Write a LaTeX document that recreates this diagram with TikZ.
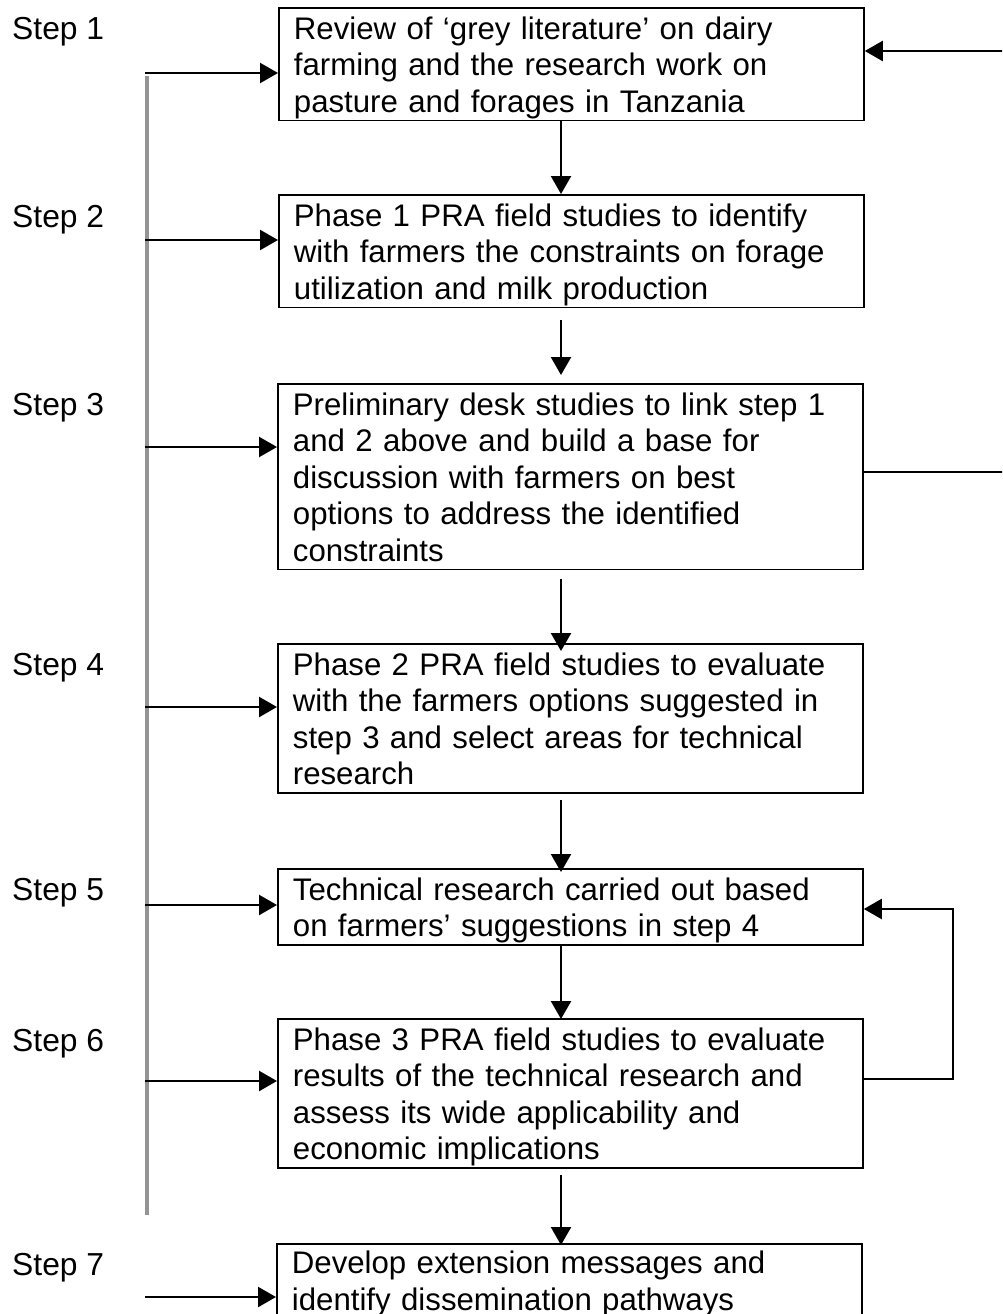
\documentclass[tikz,border=0pt]{standalone}
\usepackage{fontspec}
\setmainfont{Liberation Sans}
\usetikzlibrary{arrows.meta}
\newcommand{\topr}{\rule{0pt}{31.5pt}}
\newcommand{\botr}{\rule[-8pt]{0pt}{8pt}}
\begin{document}
\begin{tikzpicture}[x=1pt,y=-1pt,
  font=\fontsize{31.8pt}{36.5pt}\selectfont,
  stepbox/.style={draw, line width=1.8pt, anchor=north west, text width=555pt,
    inner xsep=15pt, inner ysep=0pt, align=left,
    font=\fontsize{31.2pt}{36.5pt}\selectfont},
  steplabel/.style={anchor=base west, inner sep=0pt},
  arr/.style={line width=2.4pt, -{Triangle[length=18pt,width=20pt]}},
  plain/.style={line width=2.4pt},
  greyline/.style={line width=4pt, draw=black!42}]
\clip (0,0) rectangle (1002,1314);
\fill[white] (0,0) rectangle (1002,1314);

% boxes
\node[stepbox] (b1) at (278,7) {\topr Review of ‘grey literature’ on dairy\\farming and the research work on\\pasture and forages in Tanzania\botr};
\node[stepbox] (b2) at (278,194) {\topr Phase 1 PRA field studies to identify\\with farmers the constraints on forage\\utilization and milk production\botr};
\node[stepbox] (b3) at (277,383) {\topr Preliminary desk studies to link step 1\\and 2 above and build a base for\\discussion with farmers on best\\options to address the identified\\constraints\botr};
\node[stepbox] (b4) at (277,643) {\topr Phase 2 PRA field studies to evaluate\\with the farmers options suggested in\\step 3 and select areas for technical\\research\botr};
\node[stepbox] (b5) at (277,868) {\topr Technical research carried out based\\on farmers’ suggestions in step 4\botr};
\node[stepbox] (b6) at (277,1018) {\topr Phase 3 PRA field studies to evaluate\\results of the technical research and\\assess its wide applicability and\\economic implications\botr};
\node[stepbox] (b7) at (276,1243) {\rule{0pt}{30pt}Develop extension messages and\\identify dissemination pathways\botr};

% step labels
\node[steplabel] (s1) at (12,40) {Step 1};
\node[steplabel] (s2) at (12,227) {Step 2};
\node[steplabel] (s3) at (12,415) {Step 3};
\node[steplabel] (s4) at (12,675) {Step 4};
\node[steplabel] (s5) at (12,900) {Step 5};
\node[steplabel] (s6) at (12,1051) {Step 6};
\node[steplabel] (s7) at (12,1275) {Step 7};

% vertical down arrows
\coordinate (ax) at (561,0);
\draw[arr] (b1.south -| ax) -- (b2.north -| ax);
\draw[arr, shorten <=12pt, shorten >=8pt] (b2.south -| ax) -- (b3.north -| ax);
\draw[arr, shorten <=9pt, shorten >=-8pt] (b3.south -| ax) -- (b4.north -| ax);
\draw[arr, shorten <=6pt, shorten >=-4pt] (b4.south -| ax) -- (b5.north -| ax);
\draw[arr, shorten >=-1pt] (b5.south -| ax) -- (b6.north -| ax);
\draw[arr, shorten <=6pt, shorten >=-2pt] (b6.south -| ax) -- (b7.north -| ax);

% left grey line and arrows
\coordinate (Ltop) at (147,76);
\coordinate (Lbot) at (147,1215);
\draw[greyline] (Ltop) -- (Lbot);
\coordinate (L1) at (145,73);
\coordinate (L2) at (145,240);
\coordinate (L3) at (145,447);
\coordinate (L4) at (145,707);
\coordinate (L5) at (145,905);
\coordinate (L6) at (145,1081);
\coordinate (L7) at (145,1297);
\draw[arr] (L1) -- (L1 -| b1.west);
\draw[arr] (L2) -- (L2 -| b2.west);
\draw[arr] (L3) -- (L3 -| b3.west);
\draw[arr] (L4) -- (L4 -| b4.west);
\draw[arr] (L5) -- (L5 -| b5.west);
\draw[arr] (L6) -- (L6 -| b6.west);
\draw[arr] (L7) -- (L7 -| b7.west);

% right side
\coordinate (R1) at (1003,51);
\draw[arr] (R1) -- (R1 -| b1.east);
\coordinate (R3) at (1003,472);
\draw[plain] (R3 -| b3.east) -- (R3);
\coordinate (Q1) at (953,1079);
\coordinate (Q2) at (953,909);
\draw[arr] (Q1 -| b6.east) -- (Q1) -- (Q2) -- (Q2 -| b5.east);
\end{tikzpicture}
\end{document}
